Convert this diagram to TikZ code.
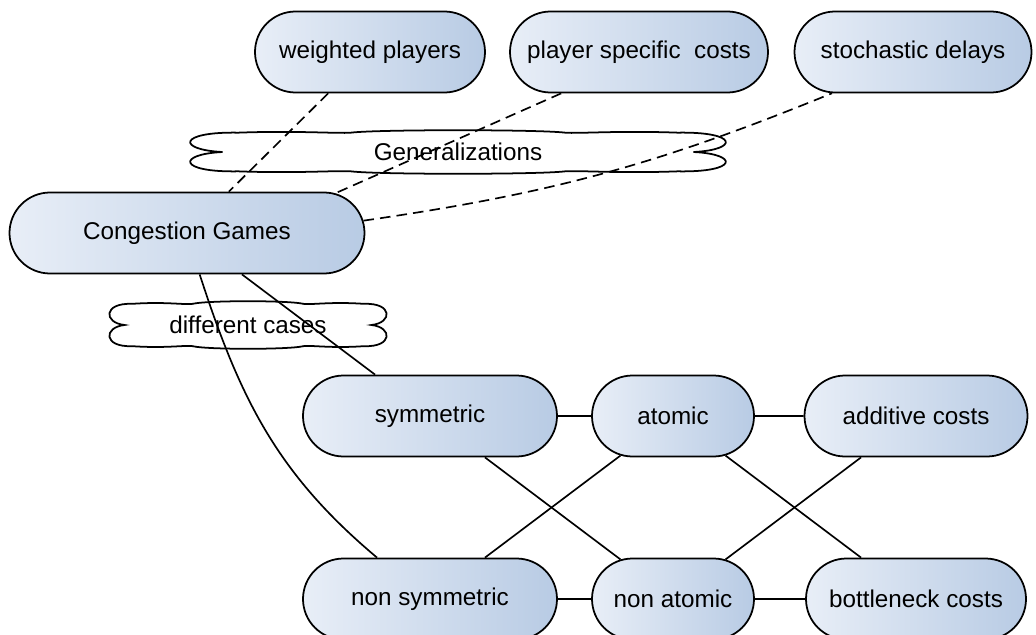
\documentclass[tikz,border=0pt]{standalone}
\usepackage{fontspec}
\setmainfont{Liberation Sans}
\usepackage{tikz}
\usetikzlibrary{shapes,shapes.misc}
\definecolor{boxleft}{RGB}{232,238,247}
\definecolor{boxright}{RGB}{184,203,228}
\tikzstyle{gamebox}   = [rounded rectangle, draw=black, line width=1pt, left color=boxleft, right color=boxright, minimum height=1.62cm, inner sep=0pt, font=\fontsize{13.8}{16}\selectfont]
\tikzstyle{cloudlabel} = [inner sep=0pt, font=\fontsize{13.8}{16}\selectfont]
\tikzstyle{cloudline} = [draw=black, line width=1pt]
\tikzstyle{link}      = [line width=0.95pt]
\tikzstyle{gen}       = [line width=0.95pt, dash pattern=on 6pt off 3.5pt]

% outline round a cloud label: node, half width, half height, notch depth
\newcommand{\cloudoutline}[4]{
	\draw[cloudline, shift={(#1.center)}]
		(-#2+#4,0) .. controls (-#2-0.42*#4,0.1*#3) and (-#2-0.42*#4,0.95*#3) .. (-#2+1.5*#4,0.9*#3)
		.. controls (-0.6*#2,#3) and (-0.45*#2,0.85*#3) .. (-0.4*#2,0.9*#3)
		.. controls (-0.3*#2,1.05*#3) and (0.3*#2,1.05*#3) .. (0.4*#2,0.9*#3)
		.. controls (0.45*#2,0.85*#3) and (0.6*#2,#3) .. (#2-1.5*#4,0.9*#3)
		.. controls (#2+0.42*#4,0.95*#3) and (#2+0.42*#4,0.1*#3) .. (#2-#4,0)
		.. controls (#2+0.42*#4,-0.1*#3) and (#2+0.42*#4,-0.95*#3) .. (#2-1.5*#4,-0.9*#3)
		.. controls (0.6*#2,-#3) and (0.45*#2,-0.85*#3) .. (0.4*#2,-0.9*#3)
		.. controls (0.3*#2,-1.05*#3) and (-0.3*#2,-1.05*#3) .. (-0.4*#2,-0.9*#3)
		.. controls (-0.45*#2,-0.85*#3) and (-0.6*#2,-#3) .. (-#2+1.5*#4,-0.9*#3)
		.. controls (-#2-0.42*#4,-0.95*#3) and (-#2-0.42*#4,-0.1*#3) .. cycle;
}

\begin{document}
\begin{tikzpicture}[]
		\useasboundingbox (0,0) rectangle (20.72,-12.7);

		% generalizations
		\node[gamebox, minimum width=4.6cm] (weighted) at (7.4,-1.04) {weighted players};
		\node[gamebox, minimum width=5.16cm] (specific) at (12.78,-1.04) {player specific\ \ costs};
		\node[gamebox, minimum width=4.74cm] (stochastic) at (18.26,-1.04) {stochastic delays};

		\node[gamebox, minimum width=7.1cm] (congestion) at (3.74,-4.66) {Congestion Games};

		% different cases
		\node[gamebox, minimum width=5.08cm] (sym) at (8.6,-8.32) {symmetric};
		\node[gamebox, minimum width=3.24cm] (atomic) at (13.46,-8.32) {atomic};
		\node[gamebox, minimum width=4.46cm] (additive) at (18.32,-8.32) {additive costs};

		\node[gamebox, minimum width=5.08cm] (nonsym) at (8.6,-11.98) {non symmetric};
		\node[gamebox, minimum width=3.24cm] (nonatomic) at (13.46,-11.98) {non atomic};
		\node[gamebox, minimum width=4.4cm] (bottleneck) at (18.32,-11.98) {bottleneck costs};

		\node[cloudlabel] (generalizations) at (9.16,-3.04) {Generalizations};
		\cloudoutline{generalizations}{5.35}{0.43}{0.64}
		\node[cloudlabel] (cases) at (4.96,-6.5) {different cases};
		\cloudoutline{cases}{2.77}{0.47}{0.3}

		\draw[gen] (weighted) -- (congestion);
		\draw[gen] (specific.208) -- (congestion.15);
		\draw[gen] (congestion.4) to[bend right=7] (stochastic.207);

		\draw[link] (congestion) -- (sym);
		\draw[link] (congestion.-73) to[out=-72,in=140] (nonsym.142);

		\draw[link] (sym) -- (atomic);
		\draw[link] (atomic) -- (additive);
		\draw[link] (nonsym) -- (nonatomic);
		\draw[link] (nonatomic) -- (bottleneck);

		\draw[link] (sym) -- (nonatomic);
		\draw[link] (atomic) -- (nonsym);
		\draw[link] (atomic) -- (bottleneck);
		\draw[link] (additive) -- (nonatomic);
	\end{tikzpicture}
\end{document}
